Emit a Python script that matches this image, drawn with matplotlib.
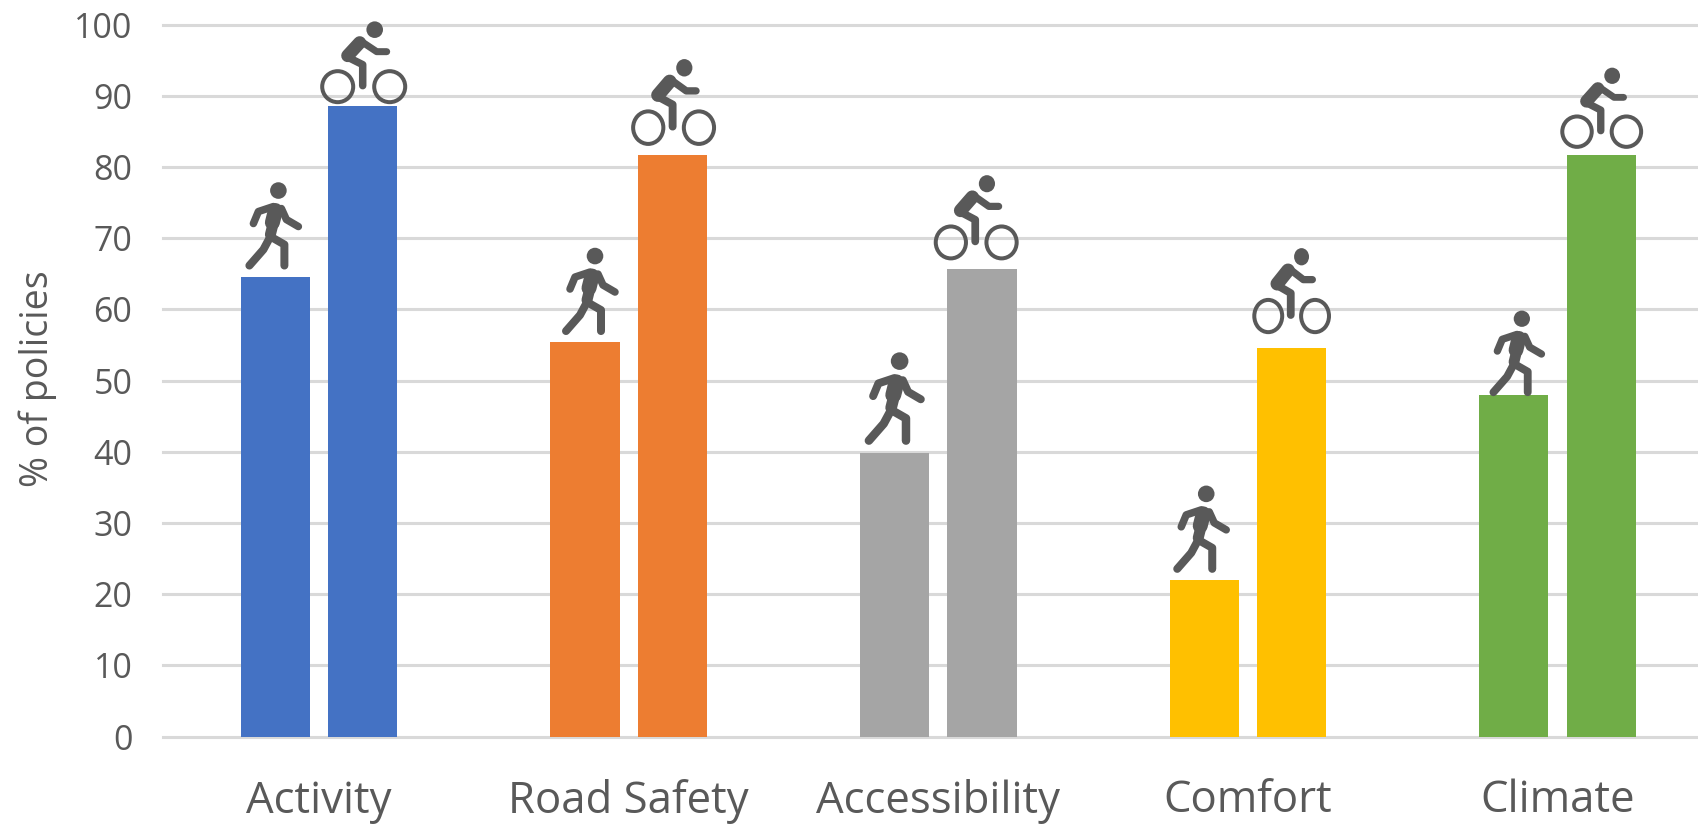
import matplotlib
matplotlib.use("Agg")
import matplotlib.pyplot as plt
from matplotlib.lines import Line2D
from matplotlib.patches import Circle
from matplotlib.transforms import Affine2D

categories = ["Activity", "Road Safety", "Accessibility", "Comfort", "Climate"]
walking = [64.6, 55.4, 39.8, 22.0, 48.0]
cycling = [88.6, 81.7, 65.7, 54.6, 81.7]
colors = ["#4472C4", "#ED7D31", "#A5A5A5", "#FFC000", "#70AD47"]
y_ticks = [0, 10, 20, 30, 40, 50, 60, 70, 80, 90, 100]

# head position of each icon relative to the top centre of its bar, in pixels
walker_head = [(3, 86), (10, 86), (5, 92), (2, 86), (8, 76)]
cyclist_head = [(12, 76), (12, 87), (5, 85), (10, 91), (11, 79)]
# icon scale of each icon
walker_scale = [1.0, 1.0, 1.06, 1.0, 0.98]
cyclist_xscale = [1.0, 0.975, 0.975, 0.9, 0.95]
cyclist_yscale = [1.0, 1.05, 1.03, 1.04, 0.98]

W, H = 1699, 825
TEXT = "#595959"
ICON = "#595959"
plt.rcParams["font.family"] = ["Open Sans", "DejaVu Sans"]

fig = plt.figure(figsize=(W / 100, H / 100), dpi=100)
ax = fig.add_axes([163 / W, 1 - 736.5 / H, (W - 163) / W, 712 / H])
ax.set_xlim(-0.504, 4.457)
ax.set_ylim(0, 100)

bar_w = 0.2238
off = 0.141
xs = list(range(len(categories)))
ax.bar([x - off for x in xs], walking, bar_w, color=colors, zorder=3)
ax.bar([x + off for x in xs], cycling, bar_w, color=colors, zorder=3)

ax.set_yticks(y_ticks)
ax.set_xticks(xs)
ax.set_xticklabels([])
ax.grid(axis="y", color="#d9d9d9", lw=2.2, zorder=0, clip_on=False)
ax.set_axisbelow(True)
ax.tick_params(length=0, axis="both", labelcolor=TEXT, labelsize=24.5, pad=22)
for s in ax.spines.values():
    s.set_visible(False)

for x, name in zip(xs, categories):
    ax.annotate(name, (x, 0), xytext=(0, -76), textcoords="offset pixels",
                ha="center", va="baseline", fontsize=31.5, color=TEXT, annotation_clip=False)

fig.text(38 / W, 1 - 379 / H, "% of policies", rotation=90, ha="center", va="center",
         fontsize=27, color=TEXT)

fig.canvas.draw()


def px(v):
    return v * 72 / 100


def limb(tr, pts, width):
    fig.add_artist(Line2D([p[0] for p in pts], [p[1] for p in pts], transform=tr, color=ICON,
                          lw=px(width), solid_capstyle="round", solid_joinstyle="round"))


def walker(cx, cy, k):
    tr = Affine2D().scale(k).translate(cx, cy)
    fig.add_artist(Circle((0, 0), 8.3, transform=tr, color=ICON, lw=0))
    limb(tr, [(-3, -20), (-6, -32)], 15 * k)
    limb(tr, [(-5, -32), (-8, -44)], 11 * k)
    limb(tr, [(-5, -16), (-20, -21), (-25, -33)], 7.5 * k)
    limb(tr, [(3, -18), (8, -29), (20, -36)], 7.5 * k)
    limb(tr, [(-8, -46), (-15, -59), (-29, -75)], 8 * k)
    limb(tr, [(-8, -46), (6, -54), (6, -75)], 8 * k)


def cyclist(cx, cy, kx, ky):
    tr = Affine2D().scale(kx, ky).translate(cx, cy)
    fig.add_artist(Circle((0, 0), 8.3, transform=tr, color=ICON, lw=0))
    limb(tr, [(-15, -13), (-27, -26)], 13 * ky)
    limb(tr, [(-13, -12), (2, -22), (12, -22)], 7 * ky)
    limb(tr, [(-28, -27), (-12, -35), (-12, -56)], 7.5 * ky)
    for dx in (-37, 15):
        fig.add_artist(Circle((dx, -57), 15.5, transform=tr, fc="none", ec=ICON, lw=px(4)))


for i, x in enumerate(xs):
    bx, by = ax.transData.transform((x - off, walking[i]))
    walker(bx + walker_head[i][0], by + walker_head[i][1], walker_scale[i])
    bx, by = ax.transData.transform((x + off, cycling[i]))
    cyclist(bx + cyclist_head[i][0], by + cyclist_head[i][1], cyclist_xscale[i], cyclist_yscale[i])

fig.savefig("out.png", dpi=100)
